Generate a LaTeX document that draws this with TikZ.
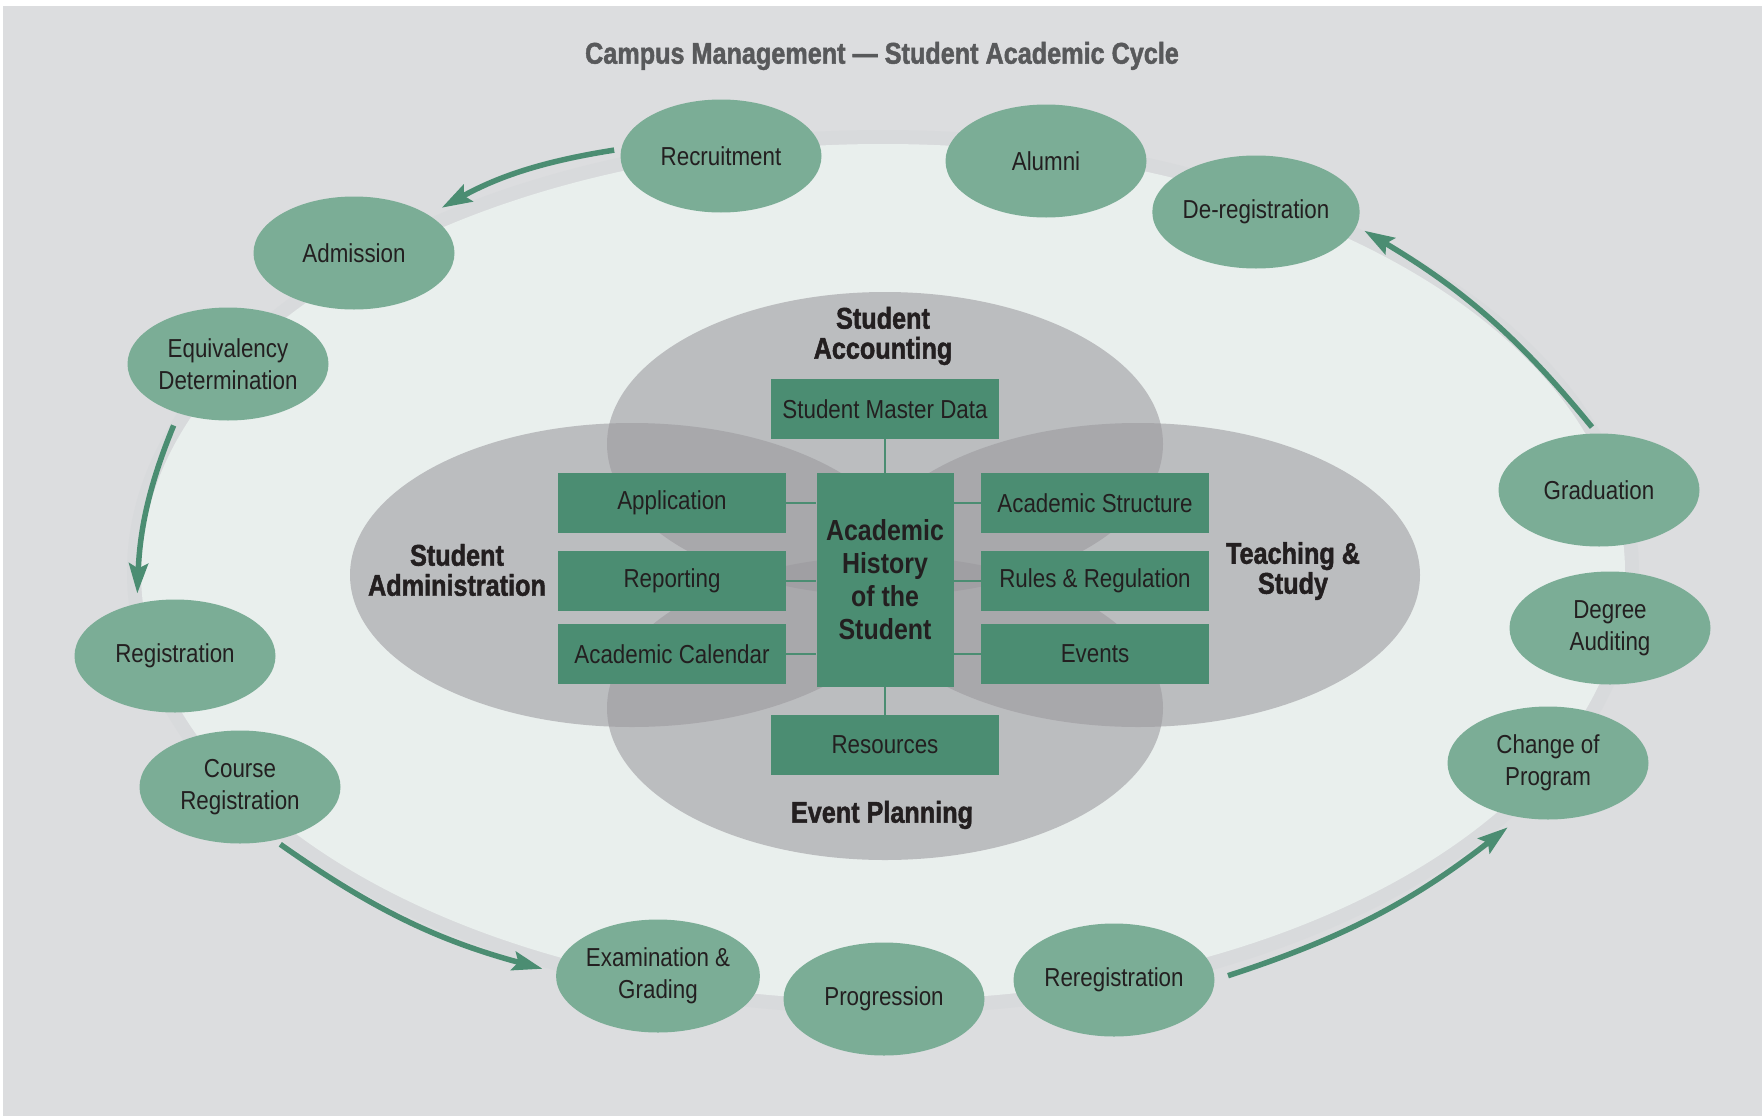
\documentclass[tikz,border=0pt]{standalone}
\usepackage{fontspec}
\setmainfont{Liberation Sans}[FakeStretch=0.86]
\newfontfamily\heavyfont{Liberation Sans Bold}[FakeStretch=0.84,FakeBold=1.5]
\usetikzlibrary{shapes.geometric,arrows.meta}
\definecolor{canvasgray}{HTML}{DCDDDF}
\definecolor{ringgray}{HTML}{D8DADC}
\definecolor{palegreen}{HTML}{E9EFED}
\definecolor{areagray}{HTML}{9B999E}
\definecolor{stagegreen}{HTML}{7BAD96}
\definecolor{modulegreen}{HTML}{4B8D72}
\definecolor{inkgray}{HTML}{231F20}
\definecolor{titlegray}{HTML}{58595B}

\begin{document}
\begin{tikzpicture}[
  x=1pt, y=1pt,
  stage/.style={
    ellipse, fill=stagegreen, inner sep=0pt,
    minimum width=201pt, minimum height=113pt,
    align=center, text=inkgray, font=\fontsize{26}{32}\selectfont
  },
  module/.style={
    rectangle, fill=modulegreen, inner sep=0pt,
    minimum width=228pt, minimum height=60pt,
    align=center, text=inkgray, font=\fontsize{26}{32}\selectfont
  },
  area/.style={fill=areagray, fill opacity=0.58},
  area label/.style={
    align=center, text=inkgray, font=\heavyfont\fontsize{30}{30}\selectfont
  },
  link/.style={draw=modulegreen, line width=2pt},
  cycle arrow/.style={
    draw=modulegreen, line width=5.5pt, bend right=10,
    -{Stealth[length=30pt,width=19pt,inset=5pt]}
  }
]
\useasboundingbox (0,0) rectangle (1762,-1119);
\fill[white] (0,0) rectangle (1762,-1119);
\fill[canvasgray] (3,-6) rectangle (1762,-1116);
\fill[ringgray] (883,-572) ellipse [x radius=756, y radius=442];
\fill[palegreen] (883,-572) ellipse [x radius=742, y radius=428];

\fill[area] (885,-444) ellipse [x radius=278, y radius=152];
\fill[area] (632,-575) ellipse [x radius=282, y radius=152];
\fill[area] (1138,-575) ellipse [x radius=282, y radius=152];
\fill[area] (885,-708) ellipse [x radius=278, y radius=152];

\node[area label] (accounting) at (883,-336) {Student\\Accounting};
\node[area label] (administration) at (457,-570) {Student\\Administration};
\node[area label] (teaching) at (1293,-571) {Teaching \&\\Study};
\node[area label] (planning) at (882,-815) {Event Planning};

\node[module] (masterdata) at (885,-409) {Student Master Data};
\node[module] (application) at (672,-503) {Application};
\node[module] (reporting) at (672,-581) {Reporting};
\node[module] (calendar) at (672,-654) {Academic Calendar};
\node[module, minimum width=137pt, minimum height=214pt,
  font=\bfseries\fontsize{29}{33}\selectfont] (history) at (885,-580)
  {Academic\\History\\of the\\Student};
\node[module] (structure) at (1095,-503) {Academic Structure};
\node[module] (rules) at (1095,-581) {Rules \& Regulation};
\node[module] (events) at (1095,-654) {Events};
\node[module] (resources) at (885,-745) {Resources};

\draw[link] (masterdata) -- (history);
\draw[link] (resources) -- (history);
\foreach \side in {application,reporting,calendar}
  \draw[link] (\side.east) -- (\side.east -| history.west);
\foreach \side in {structure,rules,events}
  \draw[link] (\side.west) -- (\side.west -| history.east);

\node[stage] (recruit) at (721,-156) {Recruitment};
\node[stage] (alumni) at (1046,-161) {Alumni};
\node[stage] (dereg) at (1256,-212) {De-registration};
\node[stage] (admission) at (354,-253) {Admission};
\node[stage] (equiv) at (228,-364) {Equivalency\\Determination};
\node[stage] (registration) at (175,-656) {Registration};
\node[stage] (course) at (240,-787) {Course\\Registration};
\node[stage] (exam) at (658,-976) {Examination \&\\Grading};
\node[stage] (progression) at (884,-999) {Progression};
\node[stage] (rereg) at (1114,-980) {Reregistration};
\node[stage] (change) at (1548,-763) {Change of\\Program};
\node[stage] (auditing) at (1610,-628) {Degree\\Auditing};
\node[stage] (graduation) at (1599,-490) {Graduation};

\draw[cycle arrow, shorten <=7pt, shorten >=15pt] (recruit.176) to (admission.27);
\draw[cycle arrow, shorten <=13pt, shorten >=10pt] (equiv.225) to (registration.126);
\draw[cycle arrow, shorten <=7pt, shorten >=14pt] (course.303) to (exam.178);
\draw[cycle arrow, shorten <=14pt, shorten >=16pt] (rereg.east) to (change.243);
\draw[cycle arrow, shorten <=8pt, shorten >=9pt] (graduation.92) to (dereg.-8);

\node[text=titlegray, font=\heavyfont\fontsize{30}{30}\selectfont] (title) at (882,-56)
  {Campus Management — Student Academic Cycle};
\end{tikzpicture}
\end{document}
